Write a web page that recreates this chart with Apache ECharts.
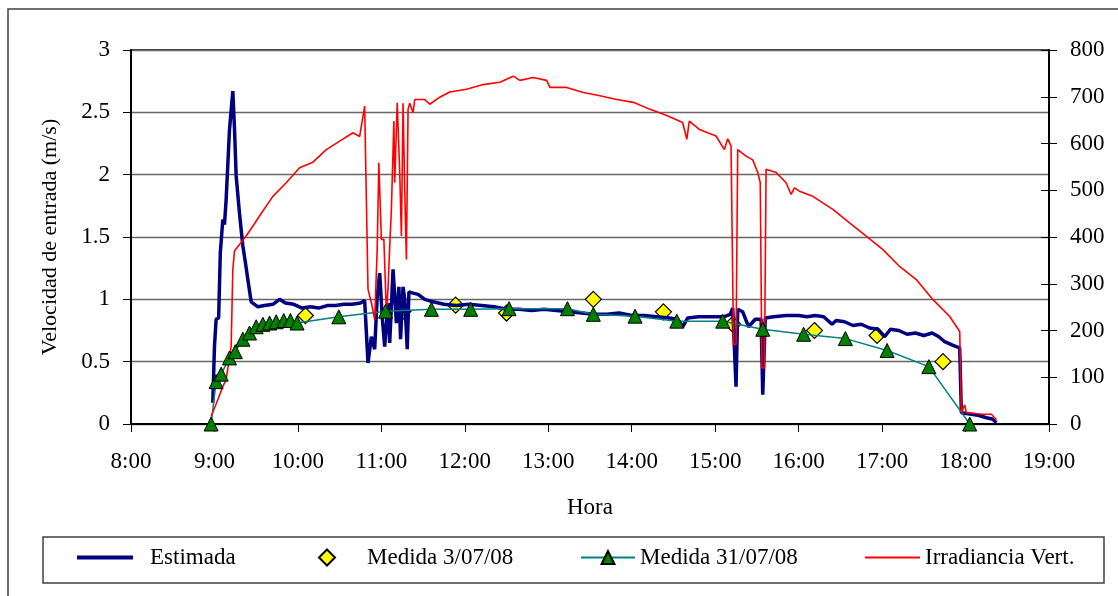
<!DOCTYPE html>
<html>
<head>
<meta charset="utf-8">
<script src="https://cdn.jsdelivr.net/npm/echarts@6/dist/echarts.min.js"></script>
<style>
html,body{margin:0;padding:0;background:#fff;}
#chart{width:1118px;height:596px;}
</style>
</head>
<body>
<div id="chart"></div>
<script>
// Estimada (m/s)
const estHora = [8.98,9.00,9.02,9.05,9.07,9.10,9.12,9.14,9.18,9.22,9.24,9.26,9.30,9.34,9.37,9.40,9.44,9.52,9.60,9.70,9.78,9.85,9.95,10.05,10.15,10.25,10.35,10.45,10.55,10.65,10.75,10.80,10.84,10.88,10.92,10.95,10.98,11.01,11.04,11.08,11.10,11.14,11.18,11.21,11.23,11.26,11.28,11.31,11.33,11.38,11.44,11.52,11.62,11.75,11.90,12.05,12.20,12.35,12.50,12.65,12.80,12.95,13.10,13.25,13.40,13.55,13.70,13.85,14.00,14.15,14.30,14.45,14.55,14.61,14.67,14.80,14.95,15.10,15.18,15.21,15.25,15.27,15.33,15.40,15.48,15.55,15.57,15.60,15.70,15.85,16.00,16.10,16.20,16.30,16.40,16.45,16.55,16.65,16.75,16.85,16.95,17.03,17.10,17.20,17.30,17.40,17.50,17.60,17.68,17.75,17.85,17.93,17.95,18.05,18.15,18.25,18.32,18.37];
const estVel = [0.17,0.62,0.84,0.85,1.37,1.64,1.60,1.80,2.36,2.67,2.37,1.99,1.69,1.43,1.30,1.16,0.98,0.94,0.95,0.96,1.00,0.97,0.96,0.93,0.94,0.93,0.95,0.95,0.96,0.96,0.97,0.99,0.49,0.70,0.60,1.02,1.21,0.86,0.62,0.97,0.65,1.24,0.81,1.10,0.68,1.10,1.00,0.60,1.06,1.05,1.04,1.00,0.98,0.96,0.95,0.96,0.95,0.94,0.92,0.92,0.91,0.92,0.91,0.90,0.89,0.88,0.88,0.89,0.87,0.87,0.86,0.85,0.84,0.78,0.85,0.86,0.86,0.86,0.88,0.93,0.30,0.92,0.90,0.78,0.84,0.84,0.235,0.85,0.86,0.87,0.87,0.86,0.87,0.86,0.80,0.83,0.82,0.79,0.80,0.77,0.76,0.70,0.76,0.75,0.72,0.73,0.71,0.73,0.70,0.66,0.63,0.61,0.09,0.08,0.07,0.05,0.04,0.01];

// Medida 3/07/08 (m/s)
const med3Hora = [10.09,11.26,11.89,12.50,13.54,14.38,15.21,16.19,16.94,17.73];
const med3Vel = [0.87,0.905,0.953,0.89,1.00,0.90,0.80,0.75,0.71,0.50];

// Medida 31/07/08 (m/s)
const med31Hora = [8.96,9.02,9.08,9.18,9.25,9.34,9.42,9.50,9.58,9.66,9.74,9.83,9.91,9.99,10.49,11.05,11.60,12.07,12.53,13.23,13.54,14.04,14.54,15.09,15.57,16.06,16.56,17.06,17.56,18.05];
const med31Vel = [0,0.34,0.40,0.53,0.58,0.68,0.73,0.78,0.80,0.81,0.82,0.83,0.83,0.81,0.86,0.905,0.92,0.92,0.925,0.925,0.88,0.865,0.825,0.825,0.76,0.72,0.685,0.59,0.46,0];

// Irradiancia Vert. (W/m2)
const irrHora = [8.96,9.04,9.10,9.14,9.20,9.22,9.24,9.30,9.38,9.46,9.54,9.70,9.86,10.02,10.18,10.34,10.50,10.66,10.74,10.80,10.84,10.88,10.92,10.95,10.97,11.00,11.03,11.06,11.08,11.10,11.12,11.15,11.16,11.19,11.22,11.24,11.26,11.28,11.30,11.32,11.34,11.38,11.40,11.52,11.58,11.70,11.82,12.02,12.22,12.42,12.58,12.66,12.82,12.98,13.02,13.22,13.42,13.62,13.82,14.02,14.22,14.42,14.61,14.66,14.69,14.81,15.01,15.11,15.15,15.19,15.22,15.25,15.27,15.37,15.45,15.51,15.54,15.56,15.59,15.61,15.73,15.85,15.91,15.95,16.01,16.17,16.41,16.61,16.81,17.01,17.21,17.41,17.61,17.81,17.93,17.95,17.99,18.01,18.21,18.31,18.37];
const irrVal = [16,52,80,95,166,330,370,384,402,423,445,487,516,548,560,587,605,623,615,680,288,260,223,373,559,395,395,238,290,380,459,648,516,687,538,402,686,502,352,673,686,666,694,694,684,699,710,716,726,731,744,735,741,735,720,720,709,702,694,688,673,660,645,609,648,630,616,587,610,595,170,170,587,573,565,538,516,120,120,545,538,516,491,505,498,487,459,430,402,373,337,309,266,230,198,24,41,24,21,21,9];

// Axis ticks
const xMin = 8, xMax = 19, xStep = 1;
const yMin = 0, yMax = 3, yStep = 0.5;
const y2Min = 0, y2Max = 800, y2Step = 100;

const zip = (a, b) => a.map((v, i) => [v, b[i]]);
const FONT = 'Liberation Serif';
const TXT = {fontFamily: FONT, fontSize: 23, color: '#000'};
const LEG_TOP = 546;

const chart = echarts.init(document.getElementById('chart'), null, {renderer: 'canvas'});
chart.setOption({
  animation: false,
  backgroundColor: '#fff',
  grid: {left: 131, right: 69, top: 50, bottom: 172, show: true, borderColor: '#000', borderWidth: 1.5, backgroundColor: 'transparent'},
  graphic: [
    {type: 'rect', shape: {x: 8, y: 9, width: 1200, height: 700}, style: {fill: 'none', stroke: '#404040', lineWidth: 1.5}, silent: true, z: -10},
    {type: 'rect', shape: {x: 43, y: 537, width: 1061, height: 46}, style: {fill: 'none', stroke: '#404040', lineWidth: 1.5}, silent: true, z: -10}
  ],
  legend: [
    {left: 77, top: LEG_TOP, padding: 0, itemWidth: 56, itemHeight: 4, icon: 'rect',
     data: ['Estimada'], textStyle: Object.assign({}, TXT, {padding: [0,0,0,12]})},
    {left: 318, top: LEG_TOP, padding: 0, itemWidth: 16, itemHeight: 16,
     data: ['Medida 3/07/08'], textStyle: Object.assign({}, TXT, {padding: [0,0,0,27]})},
    {left: 580, top: LEG_TOP, padding: 0, itemWidth: 54, itemHeight: 16,
     data: ['Medida 31/07/08'], textStyle: Object.assign({}, TXT)},
    {left: 865, top: LEG_TOP, padding: 0, itemWidth: 55, itemHeight: 2, icon: 'rect',
     data: ['Irradiancia Vert.'], textStyle: Object.assign({}, TXT)}
  ],
  xAxis: {
    type: 'value', min: xMin, max: xMax, interval: xStep,
    name: 'Hora', nameLocation: 'middle', nameGap: 72,
    nameTextStyle: {fontFamily: FONT, fontSize: 23, color: '#000'},
    axisLine: {lineStyle: {color: '#000', width: 2}},
    axisTick: {show: true, length: 8, lineStyle: {color: '#000', width: 1}},
    axisLabel: {fontFamily: FONT, fontSize: 23, color: '#000', margin: 26, formatter: v => v + ':00'},
    splitLine: {show: false}
  },
  yAxis: [
    {
      type: 'value', min: yMin, max: yMax, interval: yStep, position: 'left',
      name: 'Velocidad de entrada (m/s)', nameLocation: 'middle', nameGap: 70,
      nameTextStyle: {fontFamily: FONT, fontSize: 22, color: '#000'},
      axisLine: {show: true, lineStyle: {color: '#000', width: 2}},
      axisTick: {show: true, length: 8, lineStyle: {color: '#000', width: 1}},
      axisLabel: {fontFamily: FONT, fontSize: 23, color: '#000', margin: 21},
      splitLine: {show: true, lineStyle: {color: '#666', width: 1.4}}
    },
    {
      type: 'value', min: y2Min, max: y2Max, interval: y2Step, position: 'right',
      axisLine: {show: true, lineStyle: {color: '#000', width: 2}},
      axisTick: {show: true, length: 8, lineStyle: {color: '#000', width: 1}},
      axisLabel: {fontFamily: FONT, fontSize: 23, color: '#000', margin: 21},
      splitLine: {show: false}
    },
    {
      type: 'value', min: y2Min, max: y2Max, interval: y2Step, position: 'right',
      axisLine: {show: false},
      axisTick: {show: true, inside: true, length: 8, lineStyle: {color: '#000', width: 1}},
      axisLabel: {show: false},
      splitLine: {show: false}
    }
  ],
  series: [
    {
      name: 'Estimada', type: 'line', yAxisIndex: 0, symbol: 'none',
      data: zip(estHora, estVel),
      lineStyle: {color: '#000080', width: 3.5}, itemStyle: {color: '#000080'}
    },
    {
      name: 'Medida 3/07/08', type: 'scatter', yAxisIndex: 0, symbol: 'diamond', symbolSize: 16,
      data: zip(med3Hora, med3Vel),
      itemStyle: {color: '#FFFF00', borderColor: '#000', borderWidth: 1.2, opacity: 1}
    },
    {
      name: 'Medida 31/07/08', type: 'line', yAxisIndex: 0, symbol: 'triangle', symbolSize: 14, showSymbol: true,
      data: zip(med31Hora, med31Vel),
      lineStyle: {color: '#008080', width: 1.5},
      itemStyle: {color: '#008000', borderColor: '#000', borderWidth: 1}
    },
    {
      name: 'Irradiancia Vert.', type: 'line', yAxisIndex: 1, symbol: 'none',
      data: zip(irrHora, irrVal),
      lineStyle: {color: '#FF0000', width: 1.6}, itemStyle: {color: '#FF0000'}
    }
  ]
});
</script>
</body>
</html>
